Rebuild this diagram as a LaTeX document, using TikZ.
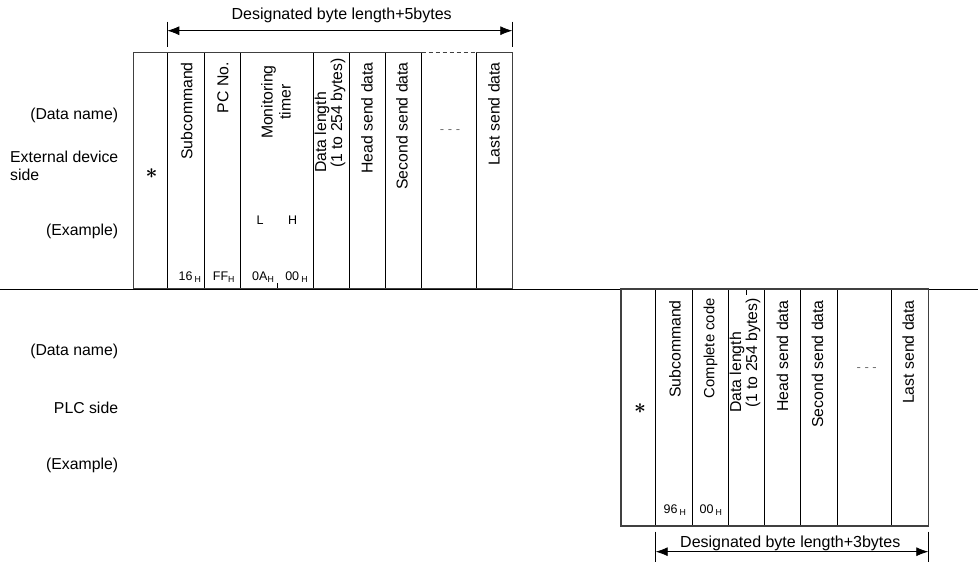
\documentclass[tikz,border=0pt]{standalone}
\usepackage{amsmath}
\usepackage{fontspec}
\setmainfont{Liberation Sans}
\usetikzlibrary{arrows.meta}
\definecolor{framegray}{rgb}{0.25, 0.25, 0.25}
\definecolor{dotgray}{rgb}{0.45, 0.45, 0.45}
\newcommand{\subH}{\textsubscript{H}}

\tikzset{
    framebox/.style={draw=framegray, line width=1.6pt},
    cellline/.style={draw=black, line width=0.8pt},
    vlabel/.style={rotate=90, anchor=east, inner sep=0pt, font=\fontsize{15.8}{18}\selectfont},
    sidelabel/.style={anchor=east, inner sep=0pt, font=\fontsize{15.8}{18.3}\selectfont},
    valuelabel/.style={inner sep=0pt, font=\fontsize{12.5}{14}\selectfont},
    starlabel/.style={inner sep=0pt, font=\fontsize{20}{22}\selectfont},
    dimarrow/.style={{Latex[length=12pt,width=9pt]}-{Latex[length=12pt,width=9pt]}, line width=0.8pt},
    dimtext/.style={inner sep=0pt, font=\fontsize{16}{18}\selectfont}
}

\begin{document}
\begin{tikzpicture}[x=1pt, y=-1pt]
    \useasboundingbox (0, 0) rectangle (978, 563);

    % Side labels
    \node[sidelabel] (dname1) at (118.3, 115) {(Data name)};
    \node[sidelabel, anchor=west, align=left] (extdev) at (10, 166) {External device\\side};
    \node[sidelabel] (example1) at (118.3, 231.7) {(Example)};
    \node[sidelabel] (dname2) at (118.3, 351.7) {(Data name)};
    \node[sidelabel] (plcside) at (118.3, 408.3) {PLC side};
    \node[sidelabel] (example2) at (118.3, 465) {(Example)};

    % Separating line
    \draw[line width=1pt] (0, 289) -- (978, 289);

    % External device frame
    \draw[cellline] (167.3, 52.5) -- (167.3, 288.5);
    \draw[cellline] (204.3, 52.5) -- (204.3, 288.5);
    \draw[cellline] (240.3, 52.5) -- (240.3, 288.5);
    \draw[cellline] (277.3, 283) -- (277.3, 288.5);
    \draw[cellline] (313.3, 52.5) -- (313.3, 288.5);
    \draw[cellline] (349.3, 52.5) -- (349.3, 288.5);
    \draw[cellline] (385.3, 52.5) -- (385.3, 288.5);
    \draw[cellline] (421.7, 52.5) -- (421.7, 288.5);
    \draw[cellline] (476, 52.5) -- (476, 288.5);
    \draw[framebox] (421.7, 52.5) -- (133.3, 52.5) -- (133.3, 288.5) -- (512.3, 288.5) -- (512.3, 52.5) -- (476, 52.5);
    \draw[framebox, dashed, dash pattern=on 4pt off 3pt] (421.7, 52.5) -- (476, 52.5);

    \node[starlabel] (star1) at (151.7, 173.3) {$\boldsymbol{\ast}$};
    \node[vlabel] (subcmd1) at (186.7, 62) {Subcommand};
    \node[vlabel] (pcno) at (223, 62) {PC No.};
    \node[vlabel, align=center] (montimer) at (276, 65) {Monitoring\\timer};
    \node[vlabel, align=left] (dlen1) at (330, 58) {Data length\\[-2pt]\hspace{5pt}(1 to 254 bytes)};
    \node[vlabel] (head1) at (367, 62) {Head send data};
    \node[vlabel] (second1) at (402, 62) {Second send data};
    \node[inner sep=0pt, text=dotgray, font=\fontsize{13}{14}\selectfont] (dots1) at (450, 131.7) {- - -};
    \node[vlabel] (last1) at (494, 62) {Last send data};

    \node[valuelabel] (lowL) at (260, 220) {L};
    \node[valuelabel] (highH) at (292.7, 220) {H};
    \node[valuelabel] (v16) at (190, 277) {16\,\subH};
    \node[valuelabel] (vFF) at (224, 277) {FF\subH};
    \node[valuelabel] (v0A) at (263.3, 277) {0A\subH};
    \node[valuelabel] (v00) at (296.7, 277) {00\,\subH};

    % Top dimension
    \coordinate (len5L) at (167.3, 30.7);
    \coordinate (len5R) at (512.3, 30.7);
    \draw[cellline] (167.3, 21.7) -- (167.3, 46.7);
    \draw[cellline] (512.3, 21.7) -- (512.3, 46.7);
    \draw[dimarrow] (len5L) -- (len5R);
    \node[dimtext] (len5) at (341.7, 15) {Designated byte length+5bytes};

    % PLC frame
    \draw[cellline] (655.7, 289) -- (655.7, 526);
    \draw[cellline] (692.3, 289) -- (692.3, 526);
    \draw[cellline] (728.7, 289) -- (728.7, 526);
    \draw[cellline] (746, 289) -- (746, 295);
    \draw[cellline] (764.3, 289) -- (764.3, 526);
    \draw[cellline] (800.3, 289) -- (800.3, 526);
    \draw[cellline] (837, 289) -- (837, 526);
    \draw[cellline] (891.7, 289) -- (891.7, 526);
    \draw[framebox] (620.7, 289) rectangle (928.3, 526);

    \node[starlabel] (star2) at (640, 408.3) {$\boldsymbol{\ast}$};
    \node[vlabel] (subcmd2) at (675, 300) {Subcommand};
    \node[vlabel, font=\fontsize{14.8}{17}\selectfont] (ccode) at (710.5, 298.3) {Complete code};
    \node[vlabel, align=left] (dlen2) at (745, 298) {Data length\\[-2pt]\hspace{5pt}(1 to 254 bytes)};
    \node[vlabel] (head2) at (782.5, 300) {Head send data};
    \node[vlabel] (second2) at (817.5, 300) {Second send data};
    \node[inner sep=0pt, text=dotgray, font=\fontsize{13}{14}\selectfont] (dots2) at (866.7, 370) {- - -};
    \node[vlabel] (last2) at (908.3, 300) {Last send data};

    \node[valuelabel] (v96) at (675, 510) {96\,\subH};
    \node[valuelabel] (v00b) at (711, 510) {00\,\subH};

    % Bottom dimension
    \coordinate (len3L) at (655.7, 551.7);
    \coordinate (len3R) at (928.3, 551.7);
    \draw[cellline] (655.7, 531.7) -- (655.7, 561.7);
    \draw[cellline] (928.3, 531.7) -- (928.3, 561.7);
    \draw[dimarrow] (len3L) -- (len3R);
    \node[dimtext] (len3) at (790.3, 543.3) {Designated byte length+3bytes};
\end{tikzpicture}
\end{document}
